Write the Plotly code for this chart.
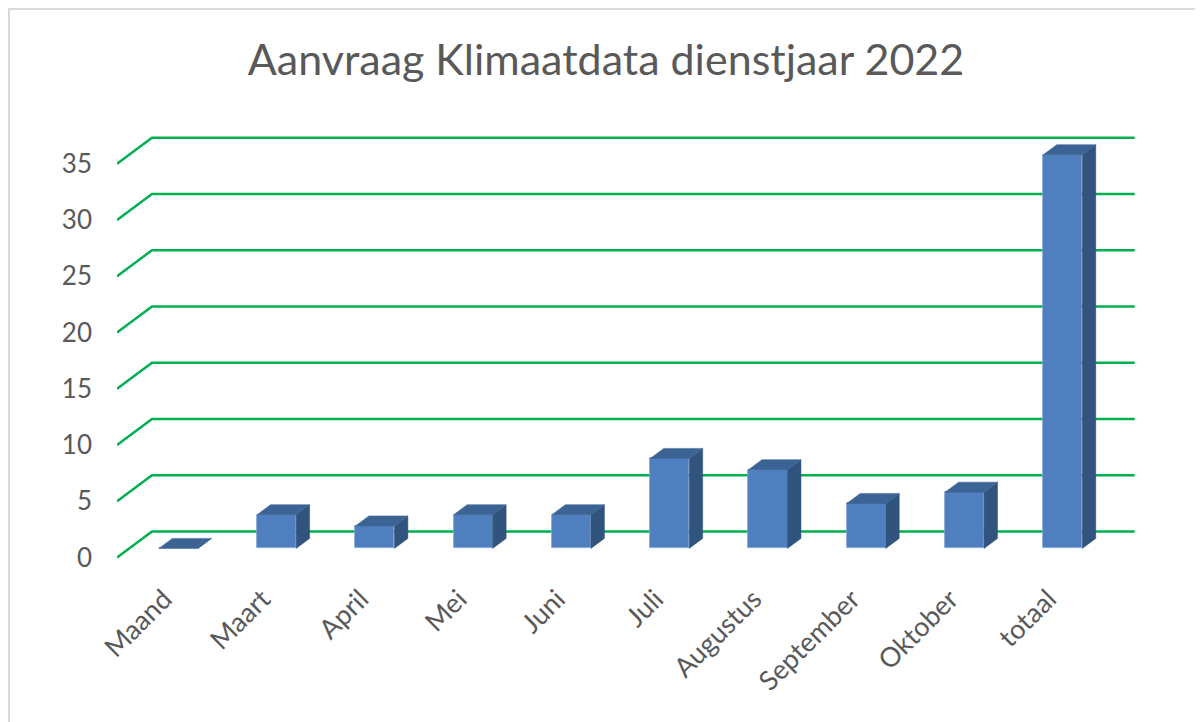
"""Aanvraag Klimaatdata dienstjaar 2022 - pseudo-3D column chart in Plotly."""

import plotly.graph_objects as go

# ---- data -------------------------------------------------------------
categories = ["Maand", "Maart", "April", "Mei", "Juni", "Juli",
              "Augustus", "September", "Oktober", "totaal"]
requests = [0, 3, 2, 3, 3, 8, 7, 4, 5, 35]
y_ticks = [0, 5, 10, 15, 20, 25, 30, 35]

# ---- style ------------------------------------------------------------
FRONT = "#4F7FBE"
TOP = "#3B6394"
SIDE = "#31547E"
GRID = "#00B050"
TEXT = "#595959"
FONT = "Lato"

# perspective: offset of the back wall relative to the front plane (data units)
DEPTH_X = 0.356
DEPTH_Y = 2.31
BAR_FRONT = 0.35   # depth fraction where bar front face sits
BAR_BACK = 0.735   # depth fraction where bar back face sits
BAR_WIDTH = 0.397

x_pos = list(range(len(categories)))
bar_x = [x + BAR_FRONT * DEPTH_X for x in x_pos]
bar_base = BAR_FRONT * DEPTH_Y
ddx = (BAR_BACK - BAR_FRONT) * DEPTH_X
ddy = (BAR_BACK - BAR_FRONT) * DEPTH_Y

fig = go.Figure()

# front faces
fig.add_trace(
    go.Bar(
        x=bar_x,
        y=requests,
        base=bar_base,
        width=BAR_WIDTH,
        marker=dict(color=FRONT, line=dict(color="#7FA2D2", width=0.8)),
        hoverinfo="skip",
        showlegend=False,
    )
)

# top and side faces as filled polygons
top_x, top_y, side_x, side_y = [], [], [], []
for cx, v in zip(bar_x, requests):
    xl = cx - BAR_WIDTH / 2
    xr = cx + BAR_WIDTH / 2
    yt = bar_base + v
    top_x += [xl, xr, xr + ddx, xl + ddx, xl, None]
    top_y += [yt, yt, yt + ddy, yt + ddy, yt, None]
    side_x += [xr, xr, xr + ddx, xr + ddx, xr, None]
    side_y += [bar_base, yt, yt + ddy, bar_base + ddy, bar_base, None]

fig.add_trace(go.Scatter(x=side_x, y=side_y, mode="lines", fill="toself",
                         fillcolor=SIDE, line=dict(color=SIDE, width=0.5),
                         hoverinfo="skip", showlegend=False))
fig.add_trace(go.Scatter(x=top_x, y=top_y, mode="lines", fill="toself",
                         fillcolor=TOP, line=dict(color=TOP, width=0.5),
                         hoverinfo="skip", showlegend=False))

# gridlines: diagonal on the left wall, then horizontal along the back wall
x_left = -0.5
x_right = len(categories) - 0.5 + DEPTH_X
for v in y_ticks:
    fig.add_shape(
        type="path",
        path=f"M {x_left},{v} L {x_left + DEPTH_X},{v + DEPTH_Y} L {x_right},{v + DEPTH_Y}",
        line=dict(color=GRID, width=2.5),
        layer="below",
    )

# chart-area border (only top and left visible in the crop)
fig.add_shape(type="rect", xref="paper", yref="paper",
              x0=-108 / 1022, y0=1 + 121 / 450, x1=1.2, y1=-0.5,
              line=dict(color="#D9D9D9", width=2), layer="below")

fig.update_layout(
    width=1203,
    height=722,
    autosize=False,
    margin=dict(l=109, r=72, t=122, b=150),
    paper_bgcolor="white",
    plot_bgcolor="white",
    font=dict(family=FONT, color=TEXT),
    title=dict(
        text="Aanvraag Klimaatdata dienstjaar 2022",
        font=dict(family=FONT, size=43, color=TEXT),
        x=(606 - 8) / 1203, xanchor="center",
        y=1 - 52 / 722, yanchor="middle",
        yref="container",
    ),
    xaxis=dict(
        range=[-0.5, 9.9],
        tickvals=[x - 0.02 for x in x_pos],
        ticktext=categories,
        tickangle=-45,
        tickfont=dict(size=27, color=TEXT),
        ticklabelstandoff=-3,
        showgrid=False, zeroline=False, showline=False, ticks="",
        fixedrange=True,
    ),
    yaxis=dict(
        range=[-2, 38],
        tickvals=y_ticks,
        tickfont=dict(size=26, color=TEXT),
        ticklabelstandoff=24,
        showgrid=False, zeroline=False, showline=False, ticks="",
        fixedrange=True,
    ),
    bargap=0,
)

fig.write_html("out.html")
